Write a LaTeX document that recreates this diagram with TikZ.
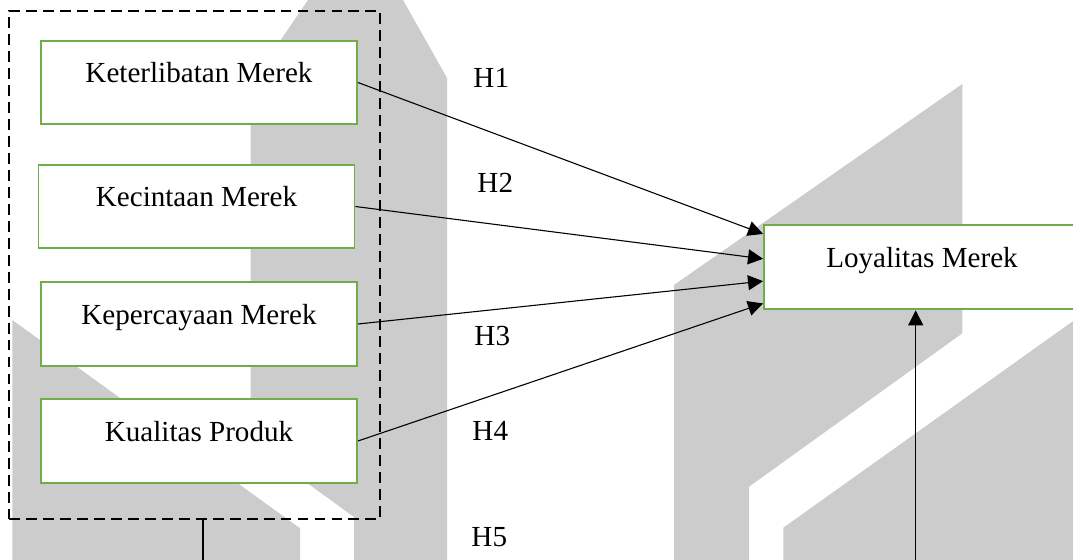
\documentclass[12pt,tikz,border=0pt]{standalone}
\usepackage{fontspec}
\setmainfont{Liberation Serif}
\usetikzlibrary{calc,arrows.meta}
\definecolor{ijo}{RGB}{112,173,71}
\definecolor{wm}{RGB}{204,204,204}
\tikzset{
  varbox/.style={draw=ijo, line width=0.8pt, fill=white, inner sep=0pt, minimum width=130.3pt, text height=17.3pt, text depth=17.3pt},
  grpbox/.style={draw, line width=0.8pt, dash pattern=on 4.5pt off 2.5pt, inner sep=0pt, minimum width=153pt, minimum height=209.5pt},
  arr/.style={-{Triangle[length=6.2pt,width=6.2pt]}, line width=0.45pt}
}
\begin{document}
\begin{tikzpicture}[x=0.4124pt, y=-0.4124pt, font=\fontsize{12}{14}\selectfont]
  \clip (0,0) rectangle (1073,560);
  \fill[white] (0,0) rectangle (1073,560);
  % watermark
  \fill[wm] (308,0) -- (250.7,84) -- (250.7,442) -- (354,517) -- (354,600) -- (447,600) -- (447,78) -- (403,0) -- cycle;
  \fill[wm] (12.3,320) -- (300,528.3) -- (300,600) -- (12.3,600) -- cycle;
  \fill[wm] (674,285) -- (962.3,84) -- (962.3,333.3) -- (749,486.7) -- (749,600) -- (674,600) -- cycle;
  \fill[wm] (783.3,527.7) -- (1100,301.9) -- (1100,600) -- (783.3,600) -- cycle;

  \node[grpbox] (grp) at (194.5,265) {};
  \node[varbox] (k1) at (199,82.5) {Keterlibatan Merek};
  \node[varbox] (k2) at (196.5,206.5) {Kecintaan Merek};
  \node[varbox] (k3) at (199,324) {Kepercayaan Merek};
  \node[varbox] (k4) at (199,441) {Kualitas Produk};
  \node[varbox] (loy) at (922,267.4) {Loyalitas Merek};

  \foreach \t/\x/\y in {H1/473/87.5, H2/477/192, H3/474/345.7, H4/472/440, H5/471/546}
    \node[anchor=base west, inner sep=0pt] (\t) at (\x,\y) {\t};

  \foreach \s/\f in {k1/0.11, k2/0.4, k3/0.66, k4/0.92}
    \draw[arr] (\s.east) -- ($(loy.north west)!\f!(loy.south west)$);

  \coordinate (g5) at (203,600);
  \coordinate (l5) at (915.7,600);
  \draw[line width=0.45pt] (grp.south -| g5) -- (g5);
  \draw[arr] (l5) -- (l5 |- loy.south);
\end{tikzpicture}
\end{document}
